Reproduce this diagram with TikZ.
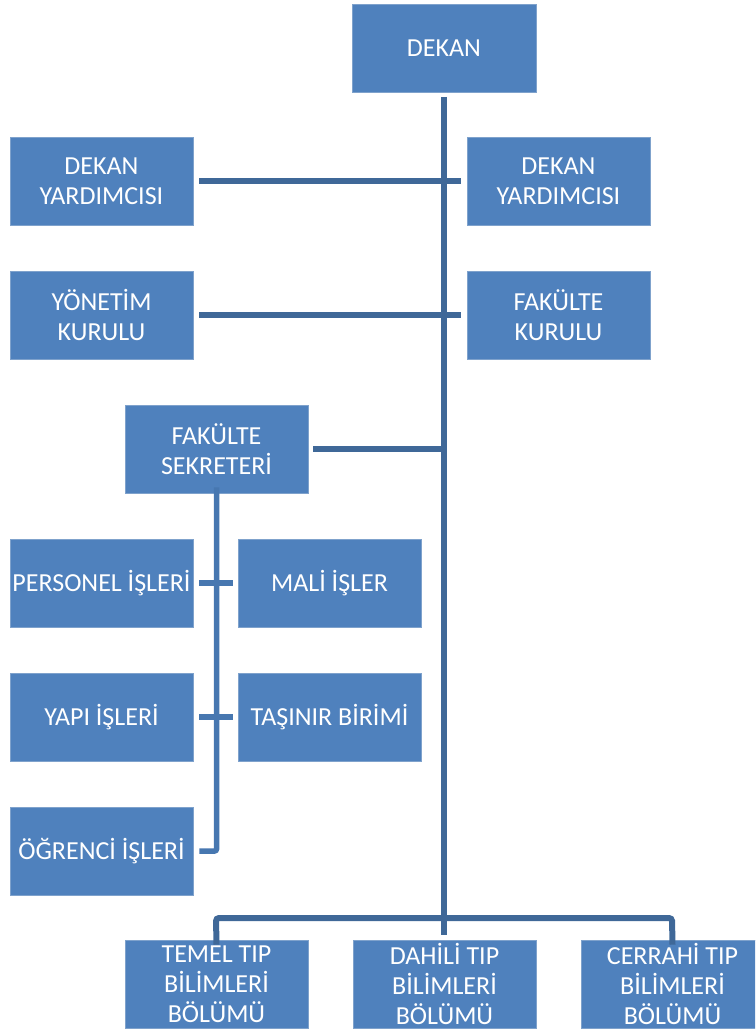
\documentclass[tikz,border=0pt]{standalone}
\usepackage{fontspec}
\setmainfont{Carlito}
\definecolor{boxfill}{HTML}{4F81BD}
\definecolor{boxedge}{HTML}{7FA2CC}
\definecolor{mainln}{HTML}{3F6898}
\definecolor{subln}{HTML}{4777B0}
\begin{document}
\begin{tikzpicture}[x=1pt,y=-1pt,
  orgbox/.style={fill=boxfill,draw=boxedge,line width=0.6pt,minimum width=183pt,minimum height=88pt,
    inner sep=0pt,align=center,text=white,font=\fontsize{26}{30}\selectfont},
  mainline/.style={draw=mainln,line width=6pt},
  subline/.style={draw=subln,line width=5.5pt},
  busline/.style={draw=mainln,line width=6pt,rounded corners=3pt}]
\useasboundingbox (0,0) rectangle (755,1030);
\clip (0,0) rectangle (755,1030);
\node[orgbox,minimum width=184pt] (dekan) at (444,48) {DEKAN};
\node[orgbox] (dy1) at (101.5,181) {DEKAN\\YARDIMCISI};
\node[orgbox] (dy2) at (558.5,181) {DEKAN\\YARDIMCISI};
\node[orgbox] (yk) at (101.5,315) {YÖNETİM\\KURULU};
\node[orgbox] (fk) at (558.5,315) {FAKÜLTE\\KURULU};
\node[orgbox] (fs) at (216.5,449) {FAKÜLTE\\SEKRETERİ};
\node[orgbox] (pi) at (101.5,583) {PERSONEL İŞLERİ};
\node[orgbox] (mi) at (329.5,583) {MALİ İŞLER};
\node[orgbox] (yi) at (101.5,717) {YAPI İŞLERİ};
\node[orgbox] (tb) at (329.5,717) {TAŞINIR BİRİMİ};
\node[orgbox] (oi) at (101.5,851) {ÖĞRENCİ İŞLERİ};
\node[orgbox] (temel) at (216.5,984) {TEMEL TIP\\BİLİMLERİ\\BÖLÜMÜ};
\node[orgbox] (dahili) at (444.5,984) {DAHİLİ TIP\\BİLİMLERİ\\BÖLÜMÜ};
\node[orgbox] (cerrahi) at (672.5,984) {CERRAHİ TIP\\BİLİMLERİ\\BÖLÜMÜ};
% coordinates
\coordinate (mtop) at (444,97);
\coordinate (mbot) at (444,935);
\coordinate (fsj) at (447,449);
\coordinate (busL) at (216,918);
\coordinate (busR) at (672,918);
% main vertical
\draw[mainline] (mtop) -- (mbot);
\draw[mainline] ([xshift=6pt]dy1.east) -- ([xshift=-6pt]dy2.west);
\draw[mainline] ([xshift=6pt]yk.east) -- ([xshift=-6pt]fk.west);
\draw[mainline] ([xshift=5pt]fs.east) -- (fsj);
% secretary branch
\draw[subline,rounded corners=2pt] ([yshift=6pt]fs.south) |- ([xshift=6pt]oi.east);
\draw[subline] ([xshift=6pt]pi.east) -- ([xshift=-5pt]mi.west);
\draw[subline] ([xshift=6pt]yi.east) -- ([xshift=-5pt]tb.west);
% bottom bus
\draw[busline] ([yshift=-5pt]temel.north) -- (busL) -- (busR) -- ([yshift=-5pt]cerrahi.north);
\end{tikzpicture}
\end{document}
